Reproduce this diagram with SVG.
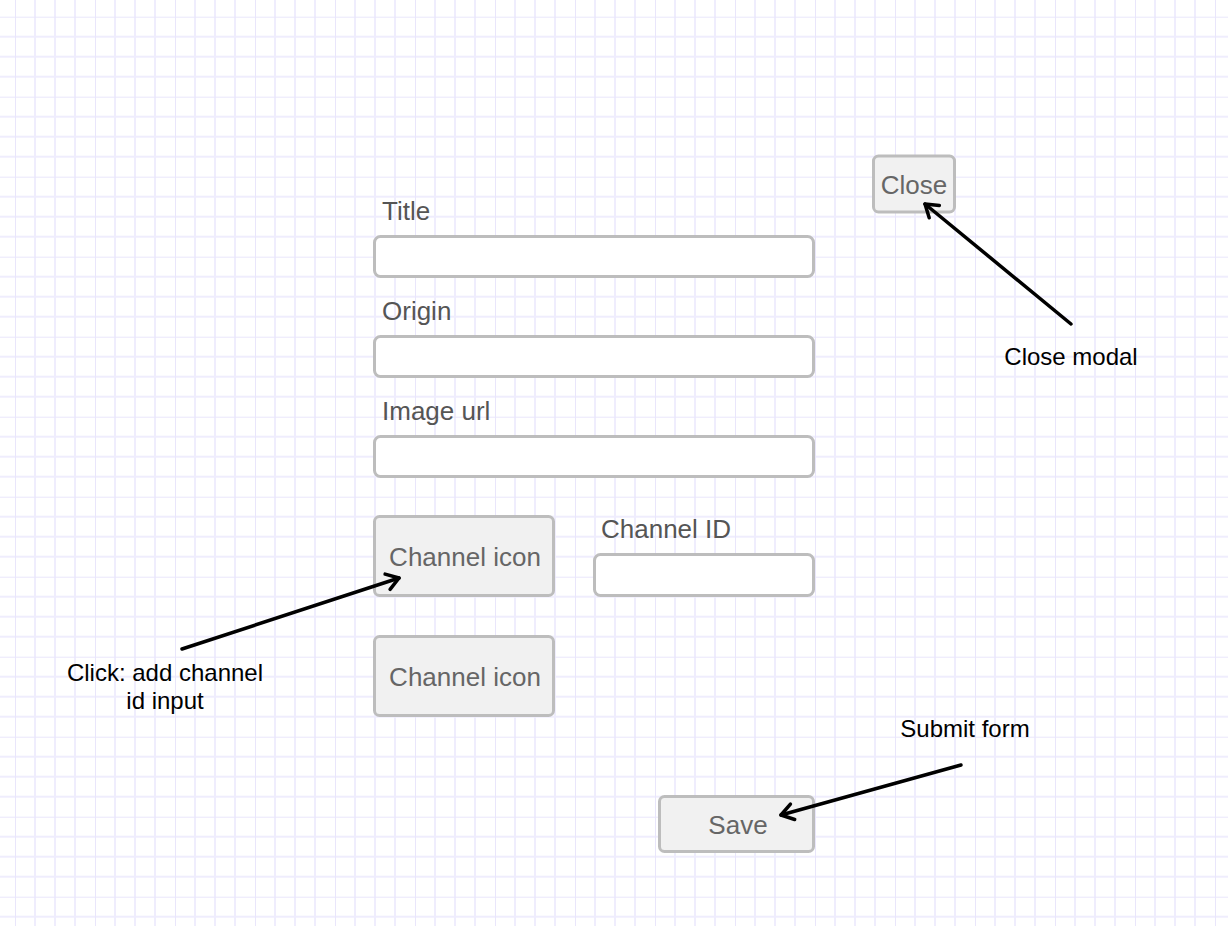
<svg xmlns="http://www.w3.org/2000/svg" width="1228" height="926" viewBox="0 0 1228 926">
<defs>
<pattern id="grid" x="15" y="16.7" width="80" height="80" patternUnits="userSpaceOnUse">
<path d="M20 0V80M40 0V80M60 0V80M0 20H80M0 40H80M0 60H80" stroke="#EFEDFD" stroke-width="2" fill="none"/>
<path d="M0 0V80M0 0H80" stroke="#E9E6FB" stroke-width="2" fill="none"/>
</pattern>
<marker id="arr" viewBox="0 0 20 20" refX="17" refY="10" markerWidth="20" markerHeight="20" markerUnits="userSpaceOnUse" orient="auto" overflow="visible">
<path d="M5 2 L17 10 L5 18" fill="none" stroke="#000" stroke-width="3.5" stroke-linecap="round" stroke-linejoin="round"/>
</marker>
<style>
.lbl{font-family:"Liberation Sans",Arial,sans-serif;font-size:26px;fill:#555}
.btxt{font-family:"Liberation Sans",Arial,sans-serif;font-size:26px;fill:#666;text-anchor:middle}
.note{font-family:"Liberation Sans",Arial,sans-serif;font-size:24px;fill:#000;text-anchor:middle}
.inp{fill:#fff;stroke:#BDBDBD;stroke-width:3}
.btn{fill:#F1F1F1;stroke:#BDBDBD;stroke-width:3}
.conn{stroke:#000;stroke-width:3.5;fill:none;stroke-linecap:round}
</style>
</defs>
<rect width="1228" height="926" fill="#fff"/>
<rect width="1228" height="926" fill="url(#grid)"/>

<g id="close-btn"><rect class="btn" x="873.5" y="156" width="81" height="56" rx="5"/><text class="btxt" x="914" y="194">Close</text></g>
<g id="title-label"><text class="lbl" x="382" y="220">Title</text></g>
<g id="title-input"><rect class="inp" x="374.5" y="236.5" width="439" height="40" rx="6"/></g>
<g id="origin-label"><text class="lbl" x="382" y="320">Origin</text></g>
<g id="origin-input"><rect class="inp" x="374.5" y="336.5" width="439" height="40" rx="6"/></g>
<g id="image-label"><text class="lbl" x="382" y="420">Image url</text></g>
<g id="image-input"><rect class="inp" x="374.5" y="436.5" width="439" height="40" rx="6"/></g>
<g id="channel-icon-1"><rect class="btn" x="374.5" y="516.5" width="179" height="79" rx="5"/><text class="btxt" x="465" y="566">Channel icon</text></g>
<g id="channel-id-label"><text class="lbl" x="601" y="538">Channel ID</text></g>
<g id="channel-id-input"><rect class="inp" x="594.5" y="554.5" width="219" height="41" rx="6"/></g>
<g id="channel-icon-2"><rect class="btn" x="374.5" y="636.5" width="179" height="79" rx="5"/><text class="btxt" x="465" y="686">Channel icon</text></g>
<g id="save-btn"><rect class="btn" x="659.5" y="796.5" width="154" height="55" rx="5"/><text class="btxt" x="738" y="834">Save</text></g>

<g id="note-close"><text class="note" x="1071" y="365">Close modal</text></g>
<g id="note-click"><text class="note" x="165" y="681">Click: add channel</text><text class="note" x="165" y="709">id input</text></g>
<g id="note-submit"><text class="note" x="965" y="737">Submit form</text></g>

<g id="connectors">
<line class="conn" x1="1071" y1="324" x2="925" y2="204" marker-end="url(#arr)"/>
<line class="conn" x1="182" y1="649" x2="399" y2="578" marker-end="url(#arr)"/>
<line class="conn" x1="961" y1="765" x2="781" y2="815" marker-end="url(#arr)"/>
</g>
</svg>
